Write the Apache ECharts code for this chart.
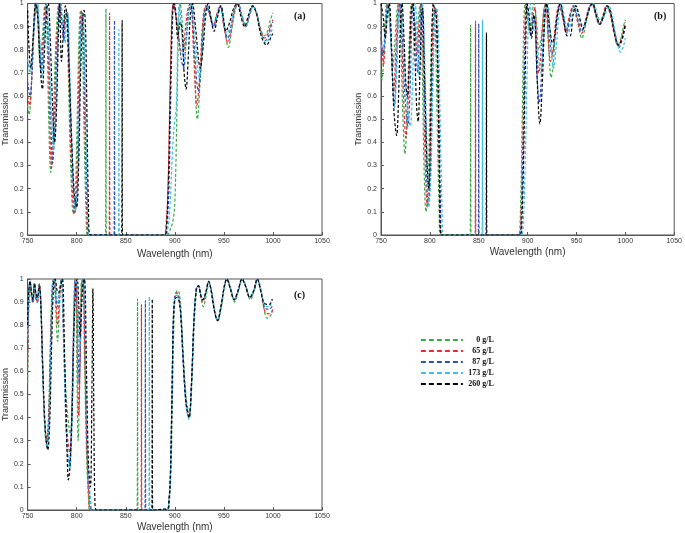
<!DOCTYPE html>
<html><head><meta charset="utf-8">
<script src="https://cdn.jsdelivr.net/npm/echarts/dist/echarts.min.js"></script>
<style>html,body{margin:0;padding:0;background:#fff}#c{width:685px;height:533px}</style>
</head><body><div id="c"></div>
<script>
const seriesNames = ['0 g/L','65 g/L','87 g/L','173 g/L','260 g/L'];
const panelLabels = ['(a)','(b)','(c)'];
const xTitle = 'Wavelength (nm)';
const yTitle = 'Transmission';

// ---- panel (a) ----
const aG = [[750,0.56],[751.5,0.52],[753.5,0.62],[756,0.88],[758.5,1],[760.5,0.93],[762.5,0.75],[765,0.85],[767.5,0.99],[769.5,0.9],[771.5,0.5],[773.6,0.27],[775.5,0.4],[778,0.75],[780.5,0.97],[782,1],[784,0.93],[786,0.88],[788,0.95],[789.5,0.96],[791.5,0.7],[793.5,0.35],[796.5,0.09],[798.5,0.17],[800.5,0.5],[802.5,0.88],[804,0.97],[805.5,0.9],[807.5,0.45],[809.5,0.1],[811,0],[829.4,0],[829.8,0.977],[830.2,0],[892,0],[895,0.02],[898,0.06],[900,0.14],[902,0.5],[904,0.92],[905.5,1],[907.5,0.92],[910,0.8],[912.5,0.88],[915,0.98],[917,0.99],[919.5,0.8],[923,0.5],[926,0.68],[929,0.92],[932,0.99],[936,0.95],[939.5,0.91],[943,0.95],[946.5,0.99],[950.5,0.9],[954.5,0.81],[958.5,0.9],[962,0.98],[965,1],[968.5,0.95],[972.5,0.9],[976.5,0.95],[980,0.99],[983.5,0.96],[987.5,0.89],[991,0.86],[994.5,0.88],[997.5,0.93],[1000,0.96]];
const aR = [[750,0.6],[752,0.56],[754,0.66],[756.5,0.9],[759,1],[761,0.92],[763.5,0.72],[766,0.86],[768.5,1],[770.5,0.88],[772.5,0.5],[774.5,0.29],[776.5,0.42],[779,0.78],[781.5,0.98],[782.5,1],[784.5,0.93],[786.5,0.86],[788.5,0.95],[790,0.96],[792,0.7],[794.5,0.32],[797.5,0.09],[799.5,0.18],[801.5,0.52],[803.5,0.9],[805,0.97],[806.5,0.9],[808.5,0.45],[810.5,0.08],[811.5,0],[833.1,0],[833.5,0.958],[833.9,0],[889,0],[891,0.04],[893,0.2],[895,0.6],[897,0.95],[898.5,1],[900.5,0.96],[903,0.88],[906,0.8],[908,0.78],[910.5,0.88],[913.5,0.98],[916,1],[919,0.8],[922.5,0.56],[925.5,0.7],[928.5,0.92],[931.5,0.99],[935.5,0.95],[939,0.9],[942.5,0.95],[946,0.99],[950,0.9],[954,0.83],[958,0.9],[961.5,0.98],[964.5,1],[968,0.95],[972,0.9],[976,0.95],[979.5,0.99],[983,0.96],[987,0.89],[991.5,0.85],[995,0.87],[998,0.91],[1000,0.93]];
const aB = [[750,0.66],[752.5,0.6],[754.5,0.7],[757,0.92],[759.5,1],[761.5,0.9],[764,0.7],[766.5,0.85],[769,1],[771,0.86],[773.5,0.52],[775.5,0.31],[777.5,0.45],[780,0.8],[782,0.98],[783,1],[785,0.92],[787,0.84],[789,0.95],[790.5,0.96],[792.5,0.7],[795.5,0.3],[798.5,0.1],[800.5,0.2],[802.5,0.55],[804,0.9],[805.5,0.96],[807,0.9],[809,0.45],[811,0.08],[812,0],[838.1,0],[838.5,0.927],[838.9,0],[890,0],[892,0.04],[894,0.2],[896,0.62],[898,0.96],[899.5,1],[901.5,0.95],[904,0.85],[906.5,0.76],[909,0.72],[911.5,0.85],[914,0.97],[916.5,1],[919.5,0.84],[924,0.62],[927,0.74],[929.5,0.92],[932.5,0.99],[936,0.95],[939.5,0.9],[943,0.95],[946.5,0.99],[950,0.91],[954,0.85],[957.5,0.91],[961,0.98],[964.5,1],[968,0.95],[972,0.9],[976,0.95],[979.5,0.99],[983,0.96],[987.5,0.88],[992.5,0.84],[995.5,0.86],[998,0.9],[1000,0.92]];
const aC = [[750,0.76],[752.5,0.7],[755,0.78],[757.5,0.95],[760,1],[762,0.88],[764.5,0.68],[767,0.84],[769.5,1],[771.5,0.85],[774,0.55],[776.5,0.37],[778.5,0.5],[781,0.82],[783,0.99],[784,1],[786,0.9],[788,0.83],[790,0.95],[791,0.96],[793,0.7],[796,0.3],[799,0.11],[801,0.22],[803,0.58],[804.5,0.9],[806,0.96],[807.5,0.9],[809.5,0.45],[811.5,0.08],[812.5,0],[842.6,0],[843,0.887],[843.4,0],[891,0],[893,0.03],[895,0.12],[897.5,0.35],[899.5,0.48],[901.5,0.55],[903,0.85],[904.5,1],[906.5,0.9],[909.5,0.75],[912,0.85],[914.5,0.97],[917,1],[920.5,0.86],[925,0.68],[928,0.78],[930.5,0.93],[933,0.99],[936.5,0.95],[940,0.9],[943.5,0.95],[947,0.99],[950,0.92],[953,0.87],[957,0.91],[961,0.98],[964.5,1],[968,0.95],[972,0.9],[976,0.95],[979.5,0.99],[983,0.96],[988,0.87],[993,0.83],[996,0.85],[998.5,0.88],[1000,0.9]];
const aK = [[750,0.97],[751,0.85],[753,0.72],[755.5,0.85],[758,1],[760,0.95],[762.5,0.75],[765,0.63],[767,0.78],[769.5,0.98],[771,1],[773,0.85],[775.5,0.55],[777.5,0.4],[779.5,0.55],[781.5,0.9],[782.5,1],[784.5,0.75],[786.5,0.88],[788.5,0.99],[790,0.95],[792,0.75],[795,0.4],[797.5,0.18],[800,0.12],[802,0.3],[804,0.7],[806,0.93],[807.5,0.97],[809,0.9],[810.5,0.5],[812,0.12],[813.5,0],[845.9,0],[846.3,0.927],[846.7,0],[889.5,0],[891.5,0.04],[893.5,0.25],[895.5,0.65],[897.5,0.95],[899,1],[901,0.95],[903,0.85],[905.5,0.92],[907.5,0.88],[909.5,0.7],[911.5,0.63],[913.5,0.75],[916,0.96],[918,1],[921,0.9],[926,0.72],[929,0.82],[931.5,0.95],[934,1],[937,0.93],[940,0.88],[943.5,0.94],[947,0.99],[949.5,0.94],[952,0.88],[956,0.92],[960,0.98],[963.5,1],[967,0.95],[971,0.9],[975,0.95],[979,0.99],[983,0.96],[988,0.86],[993.5,0.82],[996.5,0.84],[998.5,0.86],[1000,0.87]];

// ---- panel (b) ----
const bG = [[750,0.7],[751,0.67],[752.5,0.75],[754.5,0.95],[756,1],[758,0.95],[760,0.85],[762,0.72],[764,0.82],[766.5,0.98],[768,1],[770,0.85],[772.5,0.5],[774.5,0.35],[776.5,0.5],[779,0.85],[781,1],[783,0.98],[785,0.88],[786.5,0.85],[788.5,0.95],[790,1],[792,0.75],[794,0.3],[796,0.1],[798,0.2],[800,0.55],[802,0.9],[804,0.97],[805.5,0.9],[807.5,0.5],[809.5,0.1],[810.5,0],[841.3,0],[841.7,0.906],[842.1,0],[890.5,0],[892.5,0.08],[894.5,0.5],[896,0.9],[897.5,1],[899.5,0.95],[902,0.88],[904.5,0.95],[906.5,1],[909,0.92],[911.5,0.8],[914,0.85],[917,0.98],[919,1],[921.5,0.82],[924,0.68],[926.5,0.75],[929,0.92],[932.5,0.99],[936,0.94],[939.5,0.88],[943,0.94],[947,0.99],[951,0.93],[955.5,0.85],[959.5,0.91],[963,0.98],[966,1],[970,0.95],[973.5,0.91],[977.5,0.95],[981,0.99],[984.5,0.96],[988.5,0.88],[992,0.82],[995.5,0.85],[998,0.9],[1000,0.93]];
const bR = [[750,0.85],[751.5,0.78],[752.5,0.73],[754,0.82],[756,0.98],[757.5,1],[759.5,0.9],[761.5,0.72],[763,0.62],[765,0.78],[767.5,0.98],[769,1],[771,0.88],[773.5,0.55],[775.5,0.42],[777.5,0.55],[780,0.88],[782,1],[784,0.95],[787,0.78],[789,0.92],[791,1],[793,0.75],[795,0.35],[797.5,0.12],[799.5,0.22],[801.5,0.6],[803.5,0.92],[805.5,0.98],[807,0.92],[809,0.5],[810.5,0.1],[811.5,0],[846.3,0],[846.7,0.925],[847.1,0],[891,0],[893,0.06],[895,0.4],[897,0.85],[898.5,1],[900.5,0.94],[903,0.87],[905.5,0.95],[907.5,0.98],[909.5,0.8],[911.5,0.7],[913.5,0.78],[916.5,0.97],[918.5,1],[921,0.85],[923.5,0.75],[926,0.8],[929,0.93],[932,0.99],[935.5,0.95],[939,0.88],[942.5,0.94],[946.5,0.99],[950.5,0.93],[955,0.87],[959,0.92],[962.5,0.98],[965.5,1],[969.5,0.95],[973,0.91],[977,0.95],[980.5,0.99],[984,0.96],[988.5,0.87],[993,0.82],[996,0.85],[998.5,0.89],[1000,0.92]];
const bB = [[750,0.88],[752,0.78],[754,0.85],[756.5,0.99],[758,1],[760,0.88],[762,0.65],[763.5,0.56],[765.5,0.72],[768,0.97],[769.5,1],[771.5,0.88],[774.5,0.6],[777.5,0.47],[779.5,0.6],[781.5,0.9],[783,1],[785,0.88],[787.5,0.7],[789.5,0.88],[791.5,1],[793.5,0.78],[796,0.35],[798.5,0.13],[800.5,0.25],[802.5,0.62],[804.5,0.93],[806,0.98],[807.5,0.9],[809.5,0.5],[811,0.1],[812,0],[849.6,0],[850,0.913],[850.4,0],[891.5,0],[893.5,0.06],[895.5,0.4],[897.5,0.85],[899,1],[901,0.93],[903.5,0.86],[906,0.95],[907.5,0.92],[909.5,0.7],[912,0.57],[914.5,0.72],[917,0.95],[919,1],[922,0.86],[925,0.78],[928,0.85],[930.5,0.95],[933,1],[936.5,0.94],[940,0.87],[943.5,0.94],[947.5,0.99],[951.5,0.93],[955.5,0.88],[959.5,0.93],[963,0.98],[966,1],[970,0.95],[974,0.91],[978,0.95],[981.5,0.99],[985,0.96],[989,0.87],[993.5,0.81],[996.5,0.84],[998.5,0.87],[1000,0.9]];
const bC = [[750,0.82],[752.5,0.8],[754.5,0.88],[757,1],[759,0.92],[761,0.75],[764,0.55],[766,0.7],[768.5,0.95],[770.5,1],[772.5,0.88],[776,0.6],[780,0.47],[782,0.62],[784,0.95],[785,1],[787,0.86],[789,0.68],[791,0.88],[792.5,1],[794.5,0.8],[797,0.38],[799,0.12],[801,0.25],[803,0.62],[805,0.93],[807,0.98],[808.5,0.9],[810.5,0.5],[812.5,0.1],[813.5,0],[853.4,0],[853.8,0.93],[854.2,0],[893.5,0],[895.5,0.05],[897.5,0.3],[899.5,0.7],[901,0.95],[902.5,1],[904.5,0.92],[907,0.88],[909,0.9],[911,0.78],[913.5,0.7],[916,0.82],[918.5,0.97],[920.5,1],[923.5,0.85],[926.5,0.72],[929.5,0.82],[932,0.95],[934.5,1],[938,0.93],[941.5,0.87],[945,0.94],[949,0.99],[953,0.94],[957,0.9],[961,0.94],[964.5,0.99],[967.5,1],[971.5,0.95],[975,0.92],[979,0.95],[983,0.99],[986.5,0.95],[990.5,0.86],[995,0.79],[997.5,0.81],[999,0.83],[1000,0.85]];
const bK = [[750,1],[752,0.95],[754.5,0.85],[756.5,0.95],[758.5,1],[760.5,0.85],[763,0.55],[766,0.43],[768,0.6],[770,0.92],[771.5,1],[773.5,0.85],[775.5,0.65],[777,0.6],[779,0.75],[781,0.97],[782.5,1],[784.5,0.8],[786.5,0.55],[788,0.49],[789.5,0.65],[791.5,0.95],[792.5,0.98],[794.5,0.7],[797,0.32],[799,0.2],[800.5,0.45],[802,0.85],[803.5,1],[805,0.97],[806.5,0.95],[808.5,0.6],[810,0.2],[811.5,0],[857.5,0],[857.9,0.875],[858.3,0],[892,0],[894,0.05],[896,0.35],[898,0.8],[899.5,1],[901.5,0.95],[904,0.85],[906.5,0.95],[908,0.9],[910,0.65],[912.5,0.48],[915,0.65],[917.5,0.93],[919.5,1],[922.5,0.9],[925.5,0.83],[928,0.87],[930.5,0.95],[933.5,1],[937,0.93],[940.5,0.86],[943.5,0.86],[946.5,0.95],[949.5,0.99],[952.5,0.95],[956.5,0.89],[960,0.93],[963.5,0.98],[966.5,1],[970.5,0.95],[974,0.91],[978,0.95],[981.5,0.99],[985,0.96],[989,0.87],[993,0.82],[996,0.84],[998.5,0.88],[1000,0.91]];

// ---- panel (c) ----
const cG = [[750,0.55],[751,0.85],[752,0.98],[753.5,0.93],[755,0.9],[756.5,0.98],[758,0.92],[759.5,0.9],[761.5,0.98],[763,0.92],[765,0.65],[767,0.4],[769,0.3],[771,0.38],[773,0.7],[775,0.97],[776.5,1],[778.5,0.88],[780.5,0.73],[782.5,0.88],[784,1],[786,0.85],[788.5,0.55],[791,0.4],[793.5,0.33],[795.5,0.45],[797.5,0.82],[799,1],[800,0.7],[801.5,0.3],[803,0.55],[804.5,0.98],[806,1],[808,0.65],[810,0.25],[812,0.05],[813.5,0],[861.6,0],[862,0.913],[862.4,0],[893,0],[894.5,0.04],[896,0.15],[897.5,0.45],[899,0.8],[900.5,0.93],[902.5,0.95],[904.5,0.94],[906.5,0.85],[909,0.65],[912,0.47],[915,0.42],[917.5,0.55],[920,0.82],[922.5,0.96],[924.5,0.97],[927,0.91],[929,0.88],[932,0.93],[935,0.98],[937.5,0.95],[941,0.86],[944,0.82],[947.5,0.88],[951,0.97],[953.5,1],[957,0.96],[961,0.9],[965,0.95],[969,1],[972.5,0.97],[977,0.91],[981,0.95],[984.5,1],[988,0.95],[991,0.87],[994,0.83],[997,0.84],[999,0.85],[1000,0.86]];
const cR = [[750,0.62],[751,0.88],[752.5,0.99],[754,0.93],[755.5,0.9],[757,0.98],[758.5,0.92],[760,0.9],[762,0.98],[763.5,0.9],[765.5,0.62],[767.5,0.38],[769.5,0.3],[771.5,0.4],[773.5,0.72],[775.5,0.98],[777,1],[779,0.9],[780.5,0.8],[782.5,0.92],[784.5,1],[786.5,0.8],[789,0.45],[791,0.3],[793,0.25],[795,0.4],[797,0.8],[798.5,1],[799.5,0.98],[801,0.6],[802,0.41],[803.5,0.65],[805,0.98],[806.5,1],[808.5,0.62],[810.5,0.25],[812.5,0.05],[814,0],[865.6,0],[866,0.889],[866.4,0],[892.5,0],[894,0.04],[895.5,0.15],[897,0.45],[898.5,0.8],[900,0.92],[902,0.94],[904,0.93],[906,0.85],[908.5,0.65],[911.5,0.47],[914.5,0.41],[917,0.55],[919.5,0.82],[922,0.96],[924,0.97],[926.5,0.92],[928.5,0.9],[931.5,0.94],[934.5,0.99],[937,0.95],[940.5,0.86],[943.5,0.82],[947,0.88],[950.5,0.97],[953,1],[956.5,0.96],[960.5,0.91],[964.5,0.95],[968.5,1],[972,0.97],[976.5,0.92],[980.5,0.95],[984,1],[987.5,0.95],[990.5,0.88],[993.5,0.85],[996.5,0.85],[999,0.86],[1000,0.87]];
const cB = [[750,0.7],[751,0.9],[752.5,0.99],[754,0.94],[755.5,0.9],[757,0.98],[758.5,0.93],[760,0.9],[762,0.97],[763.5,0.9],[765.5,0.6],[767.5,0.36],[769.5,0.28],[771.5,0.38],[773.5,0.72],[775.5,0.98],[777,1],[779,0.92],[780.5,0.88],[782.5,0.95],[784.5,1],[786.5,0.75],[789,0.38],[791,0.24],[792.5,0.2],[794.5,0.35],[796.5,0.75],[798.5,1],[800,0.95],[801.5,0.7],[802.5,0.55],[804,0.75],[805.5,0.98],[807,1],[809,0.6],[811,0.22],[813.5,0.04],[815,0],[869.6,0],[870,0.906],[870.4,0],[892.5,0],[894,0.04],[895.5,0.15],[897,0.47],[898.5,0.82],[900,0.92],[902,0.93],[904,0.92],[906,0.85],[908.5,0.65],[911.5,0.46],[914.5,0.4],[917,0.55],[919.5,0.82],[922,0.96],[924,0.97],[926.5,0.93],[928.5,0.91],[931.5,0.94],[934.5,0.99],[937,0.95],[940.5,0.86],[943.5,0.82],[947,0.88],[950.5,0.97],[953,1],[956.5,0.96],[960.5,0.91],[964.5,0.95],[968.5,1],[972,0.97],[976.5,0.92],[980.5,0.95],[984,1],[987.5,0.95],[990.5,0.89],[993.5,0.87],[996.5,0.87],[999,0.88],[1000,0.89]];
const cC = [[750,0.75],[751,0.92],[752.5,0.99],[754,0.94],[755.5,0.91],[757,0.98],[758.5,0.93],[760,0.91],[762,0.97],[763.5,0.88],[765.5,0.58],[768,0.33],[770,0.27],[772,0.38],[774,0.72],[776,0.98],[777.5,1],[779.5,0.93],[781,0.9],[783,0.96],[785,1],[787,0.72],[789.5,0.33],[791.5,0.2],[793,0.18],[795,0.33],[797,0.72],[799,1],[800.5,0.96],[802,0.78],[803,0.7],[804.5,0.82],[806,0.98],[807.5,1],[809.5,0.6],[811.5,0.22],[814.5,0.03],[816,0],[873.6,0],[874,0.924],[874.4,0],[892.5,0],[894,0.04],[895.5,0.15],[897,0.47],[898.5,0.82],[900,0.92],[902,0.93],[904,0.92],[906,0.85],[908.5,0.64],[911.5,0.45],[914.5,0.39],[917,0.55],[919.5,0.82],[922,0.96],[924,0.97],[926.5,0.93],[928.5,0.91],[931.5,0.94],[934.5,0.99],[937,0.95],[940.5,0.86],[943.5,0.82],[947,0.88],[950.5,0.97],[953,1],[956.5,0.96],[960.5,0.91],[964.5,0.95],[968.5,1],[972,0.97],[976.5,0.92],[980.5,0.95],[984,1],[987.5,0.95],[990.5,0.9],[993.5,0.88],[996.5,0.88],[999,0.9],[1000,0.9]];
const cK = [[750,0.8],[751,0.94],[752.5,0.99],[754,0.94],[755.5,0.91],[757,0.98],[758.5,0.94],[760,0.92],[762,0.97],[763.5,0.88],[765.5,0.6],[768,0.35],[770.5,0.26],[772.5,0.38],[774.5,0.72],[776.5,0.98],[778,1],[780,0.95],[781.5,0.94],[783.5,0.97],[785.5,1],[787.5,0.7],[790,0.28],[791.5,0.13],[793,0.18],[795,0.38],[797,0.75],[799,0.97],[800.5,1],[802,0.9],[803.5,0.75],[805,0.88],[806.5,0.98],[808,1],[810,0.6],[812,0.2],[814,0.1],[815.5,0.5],[816.5,0.96],[817.5,0.4],[818.5,0.05],[820,0],[876.6,0],[877,0.913],[877.4,0],[880,0],[886,0.003],[892.5,0.005],[894,0.04],[895.5,0.15],[897,0.47],[898.5,0.82],[900,0.91],[902,0.92],[904,0.91],[906,0.85],[908.5,0.65],[911.5,0.46],[914.5,0.4],[917,0.55],[919.5,0.82],[922,0.96],[924,0.97],[926.5,0.93],[928.5,0.91],[931.5,0.94],[934.5,0.99],[937,0.95],[940.5,0.86],[943.5,0.82],[947,0.88],[950.5,0.97],[953,1],[956.5,0.96],[960.5,0.91],[964.5,0.95],[968.5,1],[972,0.97],[976.5,0.92],[980.5,0.95],[984,1],[987.5,0.95],[990.5,0.9],[993.5,0.89],[996.5,0.89],[999,0.91],[1000,0.91]];

const panelData = [[aG,aR,aB,aC,aK],[bG,bR,bB,bC,bK],[cG,cR,cB,cC,cK]];
const colors = ['#3aaa48','#ee2a2a','#2a55c0','#38c0e6','#000000'];

const grids = [
  {left:25, top:2, width:297, height:233},
  {left:381, top:2, width:298, height:233},
  {left:25, top:279, width:297, height:233}
];
const xNameGaps = [14, 12, 12];

const axisFont = 'Liberation Sans, Arial, sans-serif';
const xAxes = [], yAxes = [], series = [];
grids.forEach((g, i) => {
  g.show = true; g.borderColor = '#555'; g.borderWidth = 1; g.backgroundColor = '#fff';
  xAxes.push({
    type:'value', gridIndex:i, min:750, max:1050, interval:50,
    name:xTitle, nameLocation:'middle', nameGap:xNameGaps[i],
    nameTextStyle:{fontFamily:axisFont, fontSize:10, color:'#333'},
    axisLine:{show:true, onZero:false, lineStyle:{color:'#555', width:1}},
    axisTick:{show:true, inside:true, length:3, lineStyle:{color:'#555'}},
    axisLabel:{fontFamily:axisFont, fontSize:7, color:'#333', margin:3, formatter: v => String(v)},
    splitLine:{show:false}
  });
  yAxes.push({
    type:'value', gridIndex:i, min:0, max:1, interval:0.1,
    name:yTitle, nameLocation:'middle', nameGap:13,
    nameTextStyle:{fontFamily:axisFont, fontSize:9, color:'#333'},
    axisLine:{show:true, onZero:false, lineStyle:{color:'#555', width:1}},
    axisTick:{show:true, inside:true, length:3, lineStyle:{color:'#555'}},
    axisLabel:{fontFamily:axisFont, fontSize:7, color:'#333', margin:4,
      formatter: v => String(Math.round(v*10)/10)},
    splitLine:{show:false}
  });
  panelData[i].forEach((d, s) => {
    series.push({
      type:'line', name:seriesNames[s], xAxisIndex:i, yAxisIndex:i, data:d,
      showSymbol:false, symbol:'none', smooth:0.35, clip:true,
      lineStyle:{color:colors[s], width:1.2, type:[3,2]},
      itemStyle:{color:colors[s]}, z:2+s, animation:false
    });
  });
});

const titlePos = [[294,11],[654,11],[294,290]];
const titles = panelLabels.map((t, i) => ({
  text:t, left:titlePos[i][0], top:titlePos[i][1], padding:0,
  textStyle:{fontFamily:'Liberation Serif, Times New Roman, serif', fontWeight:'bold', fontSize:10, color:'#111'}
}));

const chart = echarts.init(document.getElementById('c'), null, {renderer:'canvas'});
chart.setOption({
  animation:false,
  backgroundColor:'#fff',
  title:titles,
  grid:grids, xAxis:xAxes, yAxis:yAxes, series:series,
  legend:{
    data:seriesNames, orient:'vertical', left:420, top:336,
    itemWidth:42, itemHeight:6, itemGap:3, padding:0,
    itemStyle:{opacity:0},
    lineStyle:{width:1.8, type:[5,3]},
    formatter: n => '{r|' + n + '}',
    textStyle:{fontFamily:'Liberation Serif, Times New Roman, serif', fontWeight:'bold', fontSize:8, color:'#111',
      rich:{r:{width:26, align:'right', fontFamily:'Liberation Serif, Times New Roman, serif', fontWeight:'bold', fontSize:8}}}
  }
});
</script></body></html>
